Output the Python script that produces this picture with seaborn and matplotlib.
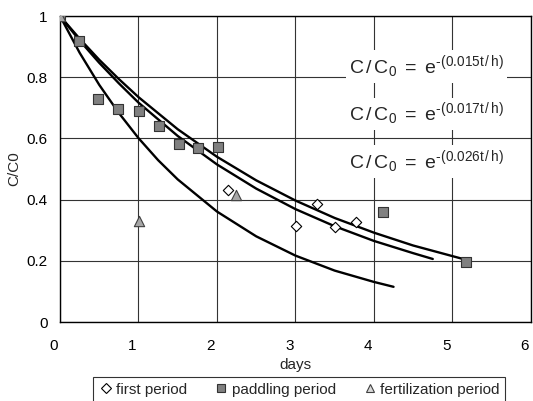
import numpy as np
import pandas as pd
import matplotlib
matplotlib.use("Agg")
import matplotlib.pyplot as plt
import matplotlib.transforms as mtransforms
import seaborn as sns
from matplotlib.lines import Line2D

# measured points
first_x = [0.0, 2.14, 3.01, 3.27, 3.51, 3.77]
first_y = [1.0, 0.433, 0.314, 0.385, 0.309, 0.327]

paddling_x = [0.0, 0.24, 0.49, 0.745, 1.01, 1.26, 1.51, 1.76, 2.01, 4.12, 5.17]
paddling_y = [1.0, 0.92, 0.728, 0.695, 0.69, 0.64, 0.582, 0.568, 0.572, 0.358, 0.195]

fert_x = [0.0, 1.01, 2.24]
fert_y = [1.0, 0.33, 0.415]

# fitted curves
fit1_x = [0, 0.25, 0.5, 0.75, 1, 1.5, 2, 2.5, 3, 3.5, 4, 4.5, 5.15]
fit1_y = [1, 0.926, 0.857, 0.794, 0.735, 0.630, 0.540, 0.463, 0.397, 0.340, 0.292, 0.250, 0.205]

fit2_x = [0, 0.25, 0.5, 0.75, 1, 1.5, 2, 2.5, 3, 3.5, 4, 4.5, 4.75]
fit2_y = [1, 0.920, 0.847, 0.780, 0.717, 0.608, 0.515, 0.436, 0.369, 0.313, 0.265, 0.225, 0.206]

fit3_x = [0, 0.25, 0.5, 0.75, 1, 1.25, 1.5, 2, 2.5, 3, 3.5, 4, 4.25]
fit3_y = [1, 0.880, 0.775, 0.683, 0.601, 0.529, 0.466, 0.361, 0.280, 0.217, 0.168, 0.131, 0.115]

equations = ["0.015", "0.017", "0.026"]
eq_y = [0.835, 0.68, 0.525]

sns.set_theme(style="white")
plt.rcParams["font.family"] = ["Liberation Sans", "DejaVu Sans"]
plt.rcParams["mathtext.fontset"] = "custom"
plt.rcParams["mathtext.rm"] = "Liberation Sans"
plt.rcParams["mathtext.it"] = "Liberation Sans"

fig = plt.figure(figsize=(5.33, 4.01), dpi=100)
ax = fig.add_axes([0.1126, 0.197, 0.8834, 0.763])

for fx, fy in [(fit1_x, fit1_y), (fit2_x, fit2_y), (fit3_x, fit3_y)]:
    sns.lineplot(x=fx, y=fy, ax=ax, color="black", linewidth=1.7, sort=False)

sns.scatterplot(x=first_x, y=first_y, ax=ax, marker="D", s=28, facecolor="white",
                edgecolor="black", linewidth=0.8, zorder=4)
sns.scatterplot(x=paddling_x, y=paddling_y, ax=ax, marker="s", s=55, color="#808080",
                edgecolor="#333333", linewidth=0.8, zorder=4)
sns.scatterplot(x=fert_x, y=fert_y, ax=ax, marker="^", s=55, color="#a6a6a6",
                edgecolor="#404040", linewidth=0.8, zorder=4)

ax.set_xlim(0, 6)
ax.set_ylim(0, 1)
ax.set_xticks(range(0, 7))
ax.set_yticks([0, 0.2, 0.4, 0.6, 0.8, 1])
ax.set_yticklabels(["0", "0.2", "0.4", "0.6", "0.8", "1"])
ax.grid(True, color="#333333", linewidth=0.8)
ax.set_axisbelow(True)
for sp in ax.spines.values():
    sp.set_color("black")
    sp.set_linewidth(1.0)
ax.tick_params(length=0, labelsize=11, colors="black")
ax.tick_params(axis="x", pad=12)
ax.tick_params(axis="y", pad=9)
# Excel-style labels sit a little left of the grid lines
shift = mtransforms.ScaledTranslation(-6 / 100, 0, fig.dpi_scale_trans)
for lab in ax.get_xticklabels():
    lab.set_transform(lab.get_transform() + shift)
ax.set_xlabel("days", fontsize=11, labelpad=4)
ax.set_ylabel("C/C0", fontsize=11, labelpad=4)

hyph = "\u2010"
for k, y in zip(equations, eq_y):
    ax.text(4.67, y, r"$\mathregular{C\,/\,C_0\ =\ e^{" + hyph + "(" + k + r"t\,/\,h)}}$",
            fontsize=14, ha="center", va="center",
            bbox=dict(facecolor="white", edgecolor="none", pad=2), zorder=3)

handles = [
    Line2D([], [], linestyle="none", marker="D", markersize=5, markerfacecolor="white",
           markeredgecolor="black", markeredgewidth=0.8),
    Line2D([], [], linestyle="none", marker="s", markersize=6, markerfacecolor="#808080",
           markeredgecolor="#333333", markeredgewidth=0.8),
    Line2D([], [], linestyle="none", marker="^", markersize=6, markerfacecolor="#d9d9d9",
           markeredgecolor="#404040", markeredgewidth=0.8),
]
leg = fig.legend(handles, ["first period", "paddling period", "fertilization period"],
                 loc="lower center", bbox_to_anchor=(0.561, -0.022), ncol=3, fontsize=11,
                 frameon=True, fancybox=False, handletextpad=0.2, columnspacing=1.7,
                 handlelength=1.0, borderpad=0.35)
leg.get_frame().set_edgecolor("black")
leg.get_frame().set_linewidth(0.8)

fig.savefig("out.png", dpi=100)
